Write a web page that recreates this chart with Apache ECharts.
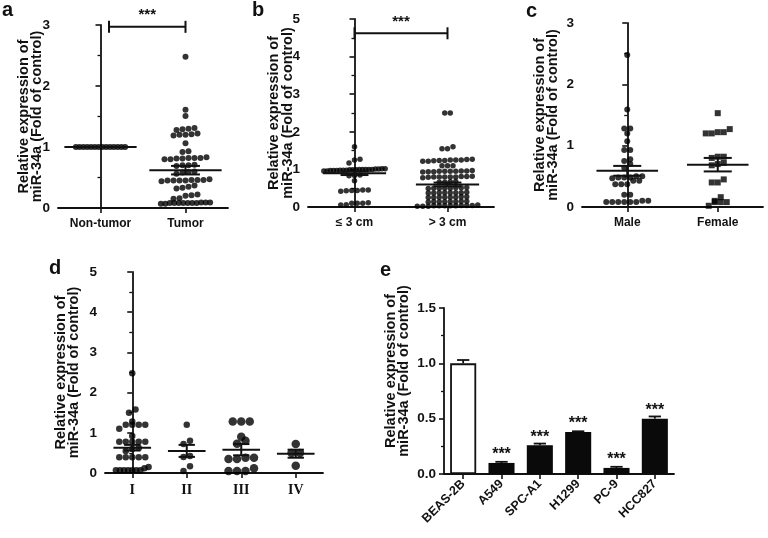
<!DOCTYPE html>
<html><head><meta charset="utf-8">
<script src="https://cdn.jsdelivr.net/npm/echarts@6/dist/echarts.min.js"></script>
<style>html,body{margin:0;padding:0;background:#fff}#c{width:768px;height:538px}</style>
</head><body><div id="c"></div>
<script>
// ---------------- DATA ----------------
const yTitle = 'Relative expression of\nmiR-34a (Fold of control)';
// Panel a
const aCats = ['Non-tumor', 'Tumor'];
const aNonTumor = [1,1,1,1,1,1,1,1,1,1,1,1,1,1];
const aTumor = [2.48,1.61,1.51,1.31,1.3,1.29,1.28,1.22,1.21,1.2,1.2,1.19,1.06,0.93,0.92,
  0.83,0.82,0.82,0.81,0.81,0.8,0.8,0.82,0.71,0.7,0.7,0.69,0.6,0.59,0.58,0.56,
  0.47,0.46,0.46,0.45,0.45,0.45,0.44,0.46,0.45,0.37,0.35,0.33,0.32,0.22,0.21,0.2,0.16,0.15,
  0.09,0.08,0.08,0.08,0.07,0.08,0.08,0.09,0.08,0.07,0.08,0.09];
const aMean = [1.0, 0.62];
const aSem = [0, 0.07];
const aSig = [[0.1, 1.0, 2.97]];
// Panel b
const bCats = ['≤ 3 cm', '> 3 cm'];
const bSmall = [1.6,1.27,1.25,1.17,1.02,1.02,1.01,1.01,1.0,1.0,1.0,1.0,1.0,0.99,0.99,0.99,0.98,0.98,0.98,0.97,0.97,0.97,0.96,0.96,
  0.85,0.84,0.83,0.7,0.45,0.44,0.43,0.42,0.44,0.45,0.1,0.1,0.11,0.1,0.05,0.06];
const bLarge = [2.5,2.5,1.6,1.55,1.55,
  1.27,1.26,1.25,1.25,1.24,1.24,1.23,1.22,1.22,1.25,1.1,1.1,1.1,
  0.97,0.96,0.95,0.95,0.94,0.94,0.95,0.96,0.93,0.95,
  0.82,0.81,0.8,0.8,0.79,0.8,0.78,0.8,0.81,0.8,0.68,0.67,0.66,0.66,
  0.52,0.51,0.5,0.5,0.49,0.5,0.5,0.51,0.38,0.38,0.37,0.38,0.39,0.38,0.37,0.38,
  0.26,0.26,0.25,0.27,0.26,0.25,0.26,0.27,0.14,0.14,0.15,0.13,0.14,0.14,0.15,0.14,
  0.03,0.03,0.02,0.04,0.03,0.05,0.03,0.02,0.04,0.03,0.02,0.04];
const bMean = [0.9, 0.6];
const bSem = [0.05, 0.05];
const bSig = [[0, 1, 4.62]];
// Panel c
const cCats = ['Male', 'Female'];
const cMale = [2.48,1.59,1.28,1.28,1.2,1.07,0.93,0.93,0.78,0.75,0.7,0.64,0.5,0.48,0.48,0.5,0.47,0.48,
  0.43,0.43,0.37,0.37,0.37,0.2,0.2,0.1,0.08,0.08,0.08,0.08,0.08,0.08,0.1];
const cFemale = [1.53,1.27,1.22,1.2,1.2,1.22,0.82,0.82,0.8,0.72,0.68,0.7,0.45,0.4,0.4,0.16,0.08,0.08,0.08,0.1,0.02];
const cMean = [0.59, 0.69];
const cSem = [0.08, 0.11];
// Panel d
const dCats = ['I', 'II', 'III', 'IV'];
const dI = [2.48,1.58,1.5,1.28,1.2,1.2,1.2,1.2,1.1,0.92,0.78,0.78,0.78,0.78,0.78,0.62,0.6,0.55,
  0.39,0.39,0.39,0.39,0.39,0.15,0.12,0.07,0.07,0.07,0.07,0.07,0.07,0.07];
const dII = [1.2,0.8,0.72,0.42,0.4,0.17,0.05];
const dIII = [1.28,1.28,1.28,0.9,0.8,0.73,0.38,0.38,0.35,0.35,0.12,0.05,0.05,0.05];
const dIV = [0.72,0.5,0.5,0.18];
const dMean = [0.63, 0.55, 0.58, 0.48];
const dSem = [0.07, 0.15, 0.14, 0.1];
// Panel e
const eCats = ['BEAS-2B', 'A549', 'SPC-A1', 'H1299', 'PC-9', 'HCC827'];
const eVals = [1.0, 0.1, 0.26, 0.38, 0.055, 0.5];
const eErr = [0.03, 0.01, 0.015, 0.006, 0.01, 0.02];
const eSig = ['', '***', '***', '***', '***', '***'];

// ---------------- CHART ----------------
const FONT = "'Liberation Sans', Arial, Helvetica, sans-serif";
const INK = '#111';
const panels = [
  {grid:{left:58,top:25,width:170,height:183}, cats:aCats, groups:[aNonTumor,aTumor], means:aMean, sems:aSem, sig:aSig,
   yMax:3, dot:[6,6], sym:['circle','circle'], meanW:0.85, capW:0.34, maxSpan:0.58, nameGap:14, catFont:FONT, catSize:12},
  {grid:{left:308,top:19,width:186,height:188}, cats:bCats, groups:[bSmall,bLarge], means:bMean, sems:bSem, sig:bSig,
   yMax:5, dot:[5.5,5.5], sym:['circle','circle'], meanW:0.68, capW:0.3, maxSpan:0.66, nameGap:13.5, catFont:FONT, catSize:12},
  {grid:{left:582,top:23,width:181,height:184}, cats:cCats, groups:[cMale,cFemale], means:cMean, sems:cSem, sig:null,
   yMax:3, dot:[6,6], sym:['circle','rect'], meanW:0.68, capW:0.31, maxSpan:0.66, nameGap:22, catFont:FONT, catSize:12},
  {grid:{left:105,top:272,width:218,height:201}, cats:dCats, groups:[dI,dII,dIII,dIV], means:dMean, sems:dSem, sig:null,
   yMax:5, dot:[6.5,6.5,8.5,8.5], sym:['circle','circle','circle','circle'], meanW:0.69, capW:0.3, maxSpan:0.6, nameGap:24,
   catFont:"'Liberation Serif', 'Times New Roman', serif", catSize:14}
];
const ePanel = {grid:{left:444,top:308,width:230,height:166}, nameGap:33};

const axisLine = {show:true, lineStyle:{color:INK, width:1.8}};
const axisTick = {show:true, length:5, lineStyle:{color:INK, width:1.6}};
const minorTick = {show:true, splitNumber:2, length:3, lineStyle:{color:INK, width:1.3}};
const labelStyle = {color:INK, fontFamily:FONT, fontWeight:'bold', fontSize:13.5};
const nameStyle = {color:INK, fontFamily:FONT, fontWeight:'bold', fontSize:14.5, lineHeight:13.5};

const grids = [], xAxes = [], yAxes = [], series = [];
panels.forEach((p, i) => {
  grids.push(p.grid);
  xAxes.push({type:'category', gridIndex:i, data:p.cats, axisLine, axisTick:Object.assign({alignWithLabel:true}, axisTick),
    axisLabel:Object.assign({}, labelStyle, {fontFamily:p.catFont, fontSize:p.catSize, margin:10, interval:0}), splitLine:{show:false}});
  xAxes.push({type:'value', gridIndex:i, min:-0.5, max:p.cats.length-0.5, show:false});
  yAxes.push({type:'value', gridIndex:i, min:0, max:p.yMax, interval:1, axisLine, axisTick, minorTick,
    axisLabel:Object.assign({}, labelStyle, {margin:8}), splitLine:{show:false}, minorSplitLine:{show:false},
    name:yTitle, nameLocation:'middle', nameRotate:90, nameGap:p.nameGap, nameMoveOverlap:false, nameTextStyle:nameStyle});
  p.groups.forEach((g, k) => {
    series.push({id:'s'+i+'_'+k, type:'scatter', xAxisIndex:2*i+1, yAxisIndex:i, symbol:p.sym[k], symbolSize:p.dot[k],
      itemStyle:{color:'#000'}, data:[], z:2, silent:true});
  });
  series.push({type:'custom', xAxisIndex:2*i+1, yAxisIndex:i, z:5, silent:true,
    data:p.means.map((m,k)=>[k, m, p.sems[k]]),
    renderItem:(params, api) => {
      const x = api.value(0), m = api.value(1), s = api.value(2);
      const c = api.coord([x, m]);
      const hw = api.size([p.meanW, 0])[0] / 2, cw = api.size([p.capW, 0])[0] / 2;
      const st = {stroke:INK, lineWidth:2};
      const ch = [{type:'line', shape:{x1:c[0]-hw, y1:c[1], x2:c[0]+hw, y2:c[1]}, style:st}];
      if (s > 0) {
        const t = api.coord([x, m+s]), b = api.coord([x, m-s]);
        ch.push({type:'line', shape:{x1:c[0], y1:t[1], x2:c[0], y2:b[1]}, style:st});
        ch.push({type:'line', shape:{x1:c[0]-cw, y1:t[1], x2:c[0]+cw, y2:t[1]}, style:st});
        ch.push({type:'line', shape:{x1:c[0]-cw, y1:b[1], x2:c[0]+cw, y2:b[1]}, style:st});
      }
      return {type:'group', children:ch};
    }});
  if (p.sig) {
    series.push({type:'custom', xAxisIndex:2*i+1, yAxisIndex:i, z:5, silent:true, data:p.sig,
      renderItem:(params, api) => {
        const p1 = api.coord([api.value(0), api.value(2)]), p2 = api.coord([api.value(1), api.value(2)]);
        const st = {stroke:INK, lineWidth:2};
        return {type:'group', children:[
          {type:'line', shape:{x1:p1[0], y1:p1[1], x2:p2[0], y2:p2[1]}, style:st},
          {type:'line', shape:{x1:p1[0], y1:p1[1]-6, x2:p1[0], y2:p1[1]+6}, style:st},
          {type:'line', shape:{x1:p2[0], y1:p2[1]-6, x2:p2[0], y2:p2[1]+6}, style:st},
          {type:'text', style:{text:'***', x:(p1[0]+p2[0])/2, y:p1[1]-4, textAlign:'center', textVerticalAlign:'bottom',
            font:'bold 15px ' + FONT, fill:INK}}
        ]};
      }});
  }
});
// Panel e
const ei = panels.length;
grids.push(ePanel.grid);
xAxes.push({type:'category', gridIndex:ei, data:eCats, axisLine, axisTick:Object.assign({alignWithLabel:true}, axisTick),
  axisLabel:Object.assign({}, labelStyle, {rotate:45, margin:8, interval:0, fontSize:12.5}), splitLine:{show:false}});
yAxes.push({type:'value', gridIndex:ei, min:0, max:1.5, interval:0.5, axisLine, axisTick, minorTick,
  axisLabel:Object.assign({}, labelStyle, {margin:8, formatter:v=>v.toFixed(1)}), splitLine:{show:false}, minorSplitLine:{show:false},
  name:yTitle, nameLocation:'middle', nameRotate:90, nameGap:ePanel.nameGap, nameMoveOverlap:false,
  nameTextStyle:Object.assign({}, nameStyle, {padding:[0,0,0,40]})});
series.push({type:'bar', xAxisIndex:2*ei, yAxisIndex:ei, barWidth:'68%', silent:true,
  data:eVals.map((v,i)=>({value:v, itemStyle: i===0 ? {color:'#fff', borderColor:INK, borderWidth:1.8} : {color:'#0a0a0a'}})),
  label:{show:true, position:'top', distance:0, formatter:p=>eSig[p.dataIndex], fontFamily:FONT, fontSize:16, fontWeight:'bold', color:INK}});
series.push({type:'custom', xAxisIndex:2*ei, yAxisIndex:ei, z:5, silent:true,
  data:eVals.map((v,i)=>[i, v, eErr[i]]),
  renderItem:(params, api) => {
    const i = api.value(0), v = api.value(1), er = api.value(2);
    const b = api.coord([i, v]), t = api.coord([i, v+er]);
    const cw = api.size([1, 0])[0] * 0.16;
    const st = {stroke:INK, lineWidth:1.8};
    return {type:'group', children:[
      {type:'line', shape:{x1:b[0], y1:b[1], x2:b[0], y2:t[1]}, style:st},
      {type:'line', shape:{x1:b[0]-cw, y1:t[1], x2:b[0]+cw, y2:t[1]}, style:st}
    ]};
  }});

const letters = [['a',2,0],['b',252,0],['c',526,1],['d',49,258],['e',380,260]];
const option = {
  animation:false, backgroundColor:'#fff',
  textStyle:{fontFamily:FONT},
  title: letters.map(l=>({text:l[0], left:l[1], top:l[2], padding:0,
    textStyle:{fontFamily:FONT, fontWeight:'bold', fontSize:20, color:INK}})),
  grid:grids, xAxis:xAxes, yAxis:yAxes, series
};
const chart = echarts.init(document.getElementById('c'), null, {renderer:'canvas'});
chart.setOption(option);

// beeswarm arrangement using the library's own scales
function swarm(vals, center, dotPx, pxX, pxY, maxSpanPx) {
  const sorted = vals.slice().sort((a,b)=>a-b);
  const tol = dotPx * 0.75 / pxY;
  const rows = [];
  let cur = null;
  sorted.forEach(v => {
    if (cur && v - cur.start <= tol) cur.items.push(v);
    else { cur = {start:v, items:[v]}; rows.push(cur); }
  });
  const pts = [];
  rows.forEach(r => {
    const n = r.items.length;
    const sp = n > 1 ? Math.min(dotPx, maxSpanPx / (n - 1)) : 0;
    r.items.forEach((v, j) => pts.push([center + (j - (n - 1) / 2) * sp / pxX, v]));
  });
  return pts;
}
const upd = [];
panels.forEach((p, i) => {
  const pxX = Math.abs(chart.convertToPixel({xAxisIndex:2*i+1}, 1) - chart.convertToPixel({xAxisIndex:2*i+1}, 0));
  const pxY = Math.abs(chart.convertToPixel({yAxisIndex:i}, 1) - chart.convertToPixel({yAxisIndex:i}, 0));
  p.groups.forEach((g, k) => {
    upd.push({id:'s'+i+'_'+k, data:swarm(g, k, p.dot[k], pxX, pxY, p.maxSpan * pxX)});
  });
});
chart.setOption({series:upd});
</script></body></html>
